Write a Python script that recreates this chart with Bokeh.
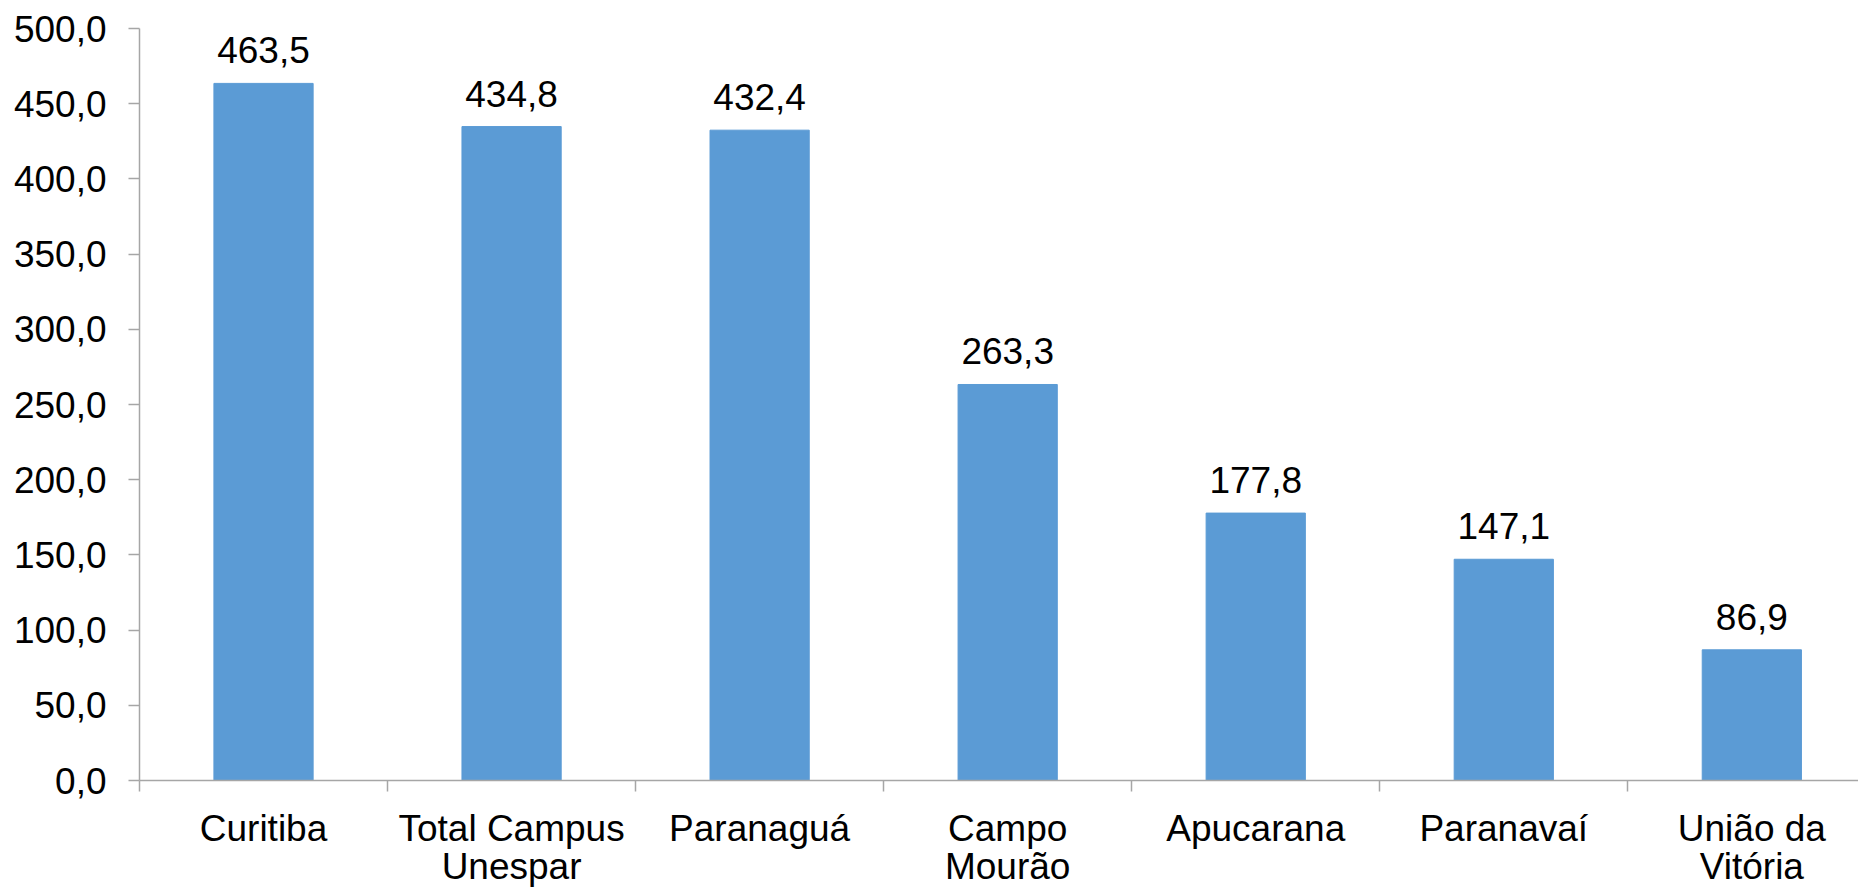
from bokeh.plotting import figure
from bokeh.models import Range1d, FixedTicker, ColumnDataSource, LabelSet
from bokeh.core.properties import value
from bokeh.embed import file_html
from bokeh.resources import INLINE

categories = ["Curitiba", "Total Campus\nUnespar", "Paranaguá", "Campo\nMourão",
              "Apucarana", "Paranavaí", "União da\nVitória"]
values = [463.5, 434.8, 432.4, 263.3, 177.8, 147.1, 86.9]
value_labels = ["463,5", "434,8", "432,4", "263,3", "177,8", "147,1", "86,9"]
y_ticks = [0, 50, 100, 150, 200, 250, 300, 350, 400, 450, 500]
y_tick_labels = ["0,0", "50,0", "100,0", "150,0", "200,0", "250,0", "300,0",
                 "350,0", "400,0", "450,0", "500,0"]

n = len(categories)
centers = [i + 0.5 for i in range(n)]
bounds = list(range(n + 1))

FONT = "Liberation Sans"
FS = "37px"
AXIS_COLOR = "#A6A6A6"

p = figure(width=1858, height=890, output_backend="svg", toolbar_location=None,
           x_range=Range1d(0, 6.93), y_range=Range1d(0, 500),
           min_border_left=139, min_border_right=0, min_border_top=28,
           min_border_bottom=0)
p.outline_line_color = None
p.xgrid.visible = False
p.ygrid.visible = False

src = ColumnDataSource(dict(x=centers, top=values, lab=value_labels))
p.vbar(x="x", top="top", width=0.4, source=src, fill_color="#5B9BD5",
       line_color="#5B9BD5")
labels = LabelSet(x="x", y="top", text="lab", source=src, y_offset=20,
                  text_align="center", text_baseline="alphabetic",
                  text_font=value(FONT), text_font_size=FS, text_color="black")
p.add_layout(labels)

# x axis
xa = p.xaxis[0]
xa.ticker = FixedTicker(ticks=centers, minor_ticks=bounds)
xa.major_label_overrides = {c: lab for c, lab in zip(centers, categories)}
xa.major_tick_out = 0
xa.major_tick_in = 0
xa.minor_tick_out = 11
xa.minor_tick_in = 0
xa.minor_tick_line_color = AXIS_COLOR
xa.minor_tick_line_width = 1.5
xa.axis_line_color = AXIS_COLOR
xa.axis_line_width = 1.5
xa.major_label_standoff = 16
xa.major_label_text_font = FONT
xa.major_label_text_font_size = FS
xa.major_label_text_color = "black"
xa.major_label_text_line_height = 0.95

# y axis
ya = p.yaxis[0]
ya.ticker = FixedTicker(ticks=y_ticks)
ya.major_label_overrides = {t: lab for t, lab in zip(y_ticks, y_tick_labels)}
ya.major_tick_out = 11
ya.major_tick_in = 0
ya.minor_tick_line_color = None
ya.major_tick_line_color = AXIS_COLOR
ya.major_tick_line_width = 1.5
ya.axis_line_color = AXIS_COLOR
ya.axis_line_width = 1.5
ya.major_label_standoff = 22
ya.major_label_text_font = FONT
ya.major_label_text_font_size = FS
ya.major_label_text_color = "black"

open("out.html", "w").write(file_html(p, INLINE))
